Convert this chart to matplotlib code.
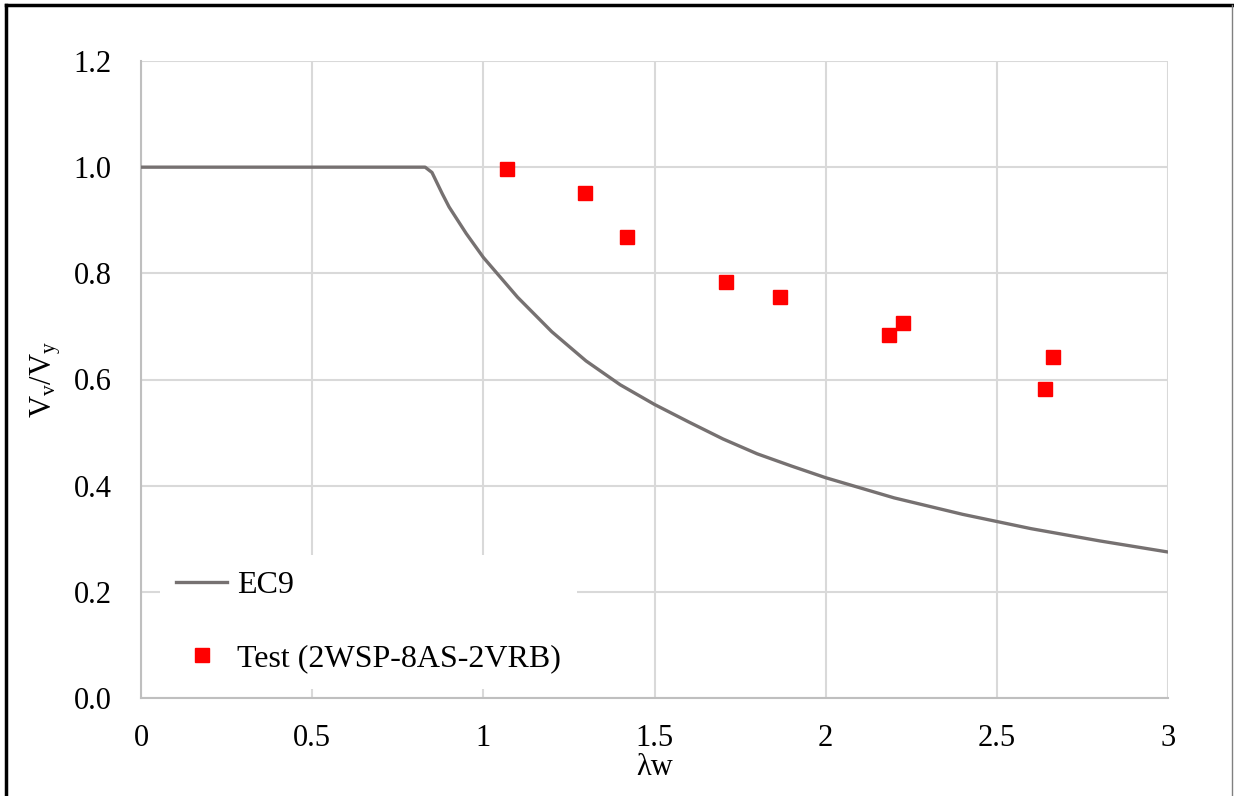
import matplotlib
matplotlib.use("Agg")
import matplotlib.pyplot as plt
from matplotlib.lines import Line2D

# EC9 design curve
ec9_lw = [0.0, 0.82, 0.83, 0.85, 0.88, 0.90, 0.95, 1.00, 1.10, 1.20, 1.30, 1.40,
          1.50, 1.60, 1.70, 1.80, 1.90, 2.00, 2.20, 2.40, 2.60, 2.80, 3.00]
ec9_v = [1.0, 1.0, 1.0, 0.99, 0.95, 0.925, 0.875, 0.83, 0.755, 0.69, 0.635, 0.59,
         0.553, 0.52, 0.488, 0.46, 0.437, 0.415, 0.377, 0.346, 0.319, 0.296, 0.275]

# test results (2WSP-8AS-2VRB)
test_lw = [1.069, 1.297, 1.42, 1.709, 1.867, 2.185, 2.226, 2.641, 2.664]
test_v = [0.996, 0.951, 0.868, 0.783, 0.755, 0.684, 0.706, 0.582, 0.642]

x_ticks = [0, 0.5, 1, 1.5, 2, 2.5, 3]
x_labels = ["0", "0.5", "1", "1.5", "2", "2.5", "3"]
y_ticks = [0.0, 0.2, 0.4, 0.6, 0.8, 1.0, 1.2]

plt.rcParams["font.family"] = ["Liberation Serif", "DejaVu Serif"]
plt.rcParams["mathtext.fontset"] = "custom"
plt.rcParams["mathtext.rm"] = "Liberation Serif"
plt.rcParams["mathtext.it"] = "Liberation Serif:italic"

fig = plt.figure(figsize=(12.34, 7.96), dpi=100)
ax = fig.add_axes([141 / 1234, 1 - 698 / 796, (1168 - 141) / 1234, (698 - 61) / 796])

grid_c = "#d9d9d9"
ax.plot(ec9_lw, ec9_v, color="#767171", lw=2.4, label="EC9", zorder=3)
ax.plot(test_lw, test_v, ls="none", marker="s", ms=10.5, color="#ff0000",
        mec="#ff0000", label="Test (2WSP-8AS-2VRB)", zorder=4)

ax.set_xlim(0, 3)
ax.set_ylim(0, 1.2)
ax.set_xticks(x_ticks)
ax.set_xticklabels(x_labels)
ax.set_yticks(y_ticks)
ax.set_yticklabels([f"{v:.1f}" for v in y_ticks])
ax.tick_params(length=0, labelsize=22, colors="black")
ax.tick_params(axis="x", pad=19)
ax.tick_params(axis="y", pad=21)
ax.grid(True, color=grid_c, lw=1.5)
ax.set_axisbelow(True)
for side in ["top", "right"]:
    ax.spines[side].set_visible(False)
for side in ["left", "bottom"]:
    ax.spines[side].set_color("#bfbfbf")
    ax.spines[side].set_linewidth(1.5)

ax.set_xlabel("λw", fontsize=22, labelpad=0)
ax.set_ylabel(r"V$_\mathrm{v}$/V$_\mathrm{y}$", fontsize=22, labelpad=8)

leg = ax.legend(loc="upper left", bbox_to_anchor=(160 / 1234, 1 - 555 / 796),
                bbox_transform=fig.transFigure, fontsize=23, frameon=True,
                facecolor="white", edgecolor="none", framealpha=1, fancybox=False,
                labelspacing=1.35, handlelength=1.6, handletextpad=0.3,
                borderpad=0.5, borderaxespad=0)
leg.set_zorder(5)

# outer frame
fig.add_artist(Line2D([6 / 1234, 6 / 1234], [0, 1 - 5 / 796], color="black", lw=2.5,
                      transform=fig.transFigure))
fig.add_artist(Line2D([6 / 1234, 1232 / 1234], [1 - 5 / 796, 1 - 5 / 796], color="black",
                      lw=2.5, transform=fig.transFigure))
fig.add_artist(Line2D([1232 / 1234, 1232 / 1234], [0, 1 - 5 / 796], color="#808080",
                      lw=1, transform=fig.transFigure))

fig.savefig("out.png", dpi=100)
